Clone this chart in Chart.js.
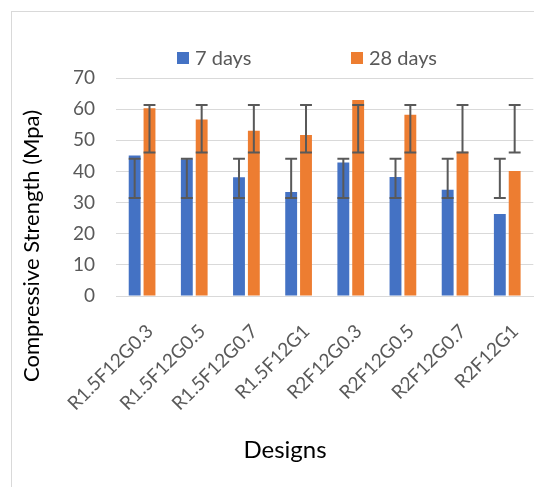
<!DOCTYPE html>
<html><head><meta charset="utf-8">
<script src="https://cdn.jsdelivr.net/npm/chart.js@4.4.0/dist/chart.umd.min.js"></script>
<style>
html,body{margin:0;padding:0;background:#fff;overflow:hidden;width:534px;height:487px;}
#frame{position:absolute;left:11px;top:11px;width:600px;height:600px;border:1px solid #d9d9d9;box-sizing:border-box;}
#wrap{position:absolute;left:0;top:0;width:548px;height:487px;}
</style></head><body>
<div id="frame"></div>
<div id="wrap"><canvas id="c" width="548" height="487"></canvas></div>
<script>
// ---- data ----
const categories = ['R1.5F12G0.3','R1.5F12G0.5','R1.5F12G0.7','R1.5F12G1','R2F12G0.3','R2F12G0.5','R2F12G0.7','R2F12G1'];
const days7  = [45.1, 43.9, 38.1, 33.4, 42.9, 38.2, 34.1, 26.3];
const days28 = [60.3, 56.7, 53.1, 51.7, 62.9, 58.2, 46.3, 40.1];
const err7Low   = [31.5, 31.5, 31.5, 31.5, 31.5, 31.5, 31.5, 31.5];
const err7High  = [44.1, 44.1, 44.1, 44.1, 44.1, 44.1, 44.1, 44.1];
const err28Low  = [46.1, 46.1, 46.1, 46.1, 46.1, 46.1, 46.1, 46.1];
const err28High = [61.3, 61.3, 61.3, 61.3, 61.3, 61.3, 61.3, 61.3];
const seriesLabels = ['7 days', '28 days'];
const yTicks = [0, 10, 20, 30, 40, 50, 60, 70];
const yTitle = 'Compressive Strength (Mpa)';
const xTitle = 'Designs';

const FONT = 'Lato';
const TICK_COLOR = '#595959';

const errorBarPlugin = {
  id: 'errorBars',
  afterDatasetsDraw(chart) {
    const ctx = chart.ctx;
    const ys = chart.scales.y;
    ctx.save();
    ctx.strokeStyle = '#595959';
    ctx.lineWidth = 2;
    chart.data.datasets.forEach((ds, i) => {
      const meta = chart.getDatasetMeta(i);
      if (!meta.visible) return;
      meta.data.forEach((bar, j) => {
        const x = bar.x, half = bar.width / 2;
        const yLo = ys.getPixelForValue(ds.errLow[j]);
        const yHi = ys.getPixelForValue(ds.errHigh[j]);
        ctx.beginPath();
        ctx.moveTo(x, yLo); ctx.lineTo(x, yHi);
        ctx.moveTo(x - half, yLo); ctx.lineTo(x + half, yLo);
        ctx.moveTo(x - half, yHi); ctx.lineTo(x + half, yHi);
        ctx.stroke();
      });
    });
    ctx.restore();
  }
};

const decorPlugin = {
  id: 'decor',
  afterDraw(chart, args, opts) {
    const ctx = chart.ctx;
    ctx.save();
    // legend
    ctx.font = opts.legendSize + 'px ' + FONT;
    ctx.textBaseline = 'middle';
    ctx.textAlign = 'left';
    chart.data.datasets.forEach((ds, i) => {
      const x = opts.legendX + i * opts.legendPitch;
      ctx.fillStyle = ds.backgroundColor;
      ctx.fillRect(x, opts.legendY - 6, 12, 12);
      ctx.fillStyle = TICK_COLOR;
      ctx.fillText(ds.label, x + 18, opts.legendY + 1);
    });
    // axis titles
    ctx.fillStyle = '#000';
    ctx.textAlign = 'center';
    ctx.font = opts.xTitleSize + 'px ' + FONT;
    ctx.fillText(xTitle, opts.xTitleX, opts.xTitleY);
    ctx.font = opts.yTitleSize + 'px ' + FONT;
    ctx.translate(opts.yTitleX, opts.yTitleY);
    ctx.rotate(-Math.PI / 2);
    ctx.fillText(yTitle, 0, 0);
    ctx.restore();
  }
};

function draw() {
  Chart.defaults.font.family = FONT;
  new Chart(document.getElementById('c'), {
    type: 'bar',
    data: {
      labels: categories,
      datasets: [
        { label: seriesLabels[0], data: days7, backgroundColor: '#4472C4', errLow: err7Low, errHigh: err7High },
        { label: seriesLabels[1], data: days28, backgroundColor: '#ED7D31', errLow: err28Low, errHigh: err28High }
      ]
    },
    options: {
      responsive: false,
      animation: false,
      devicePixelRatio: 1,
      categoryPercentage: 0.569,
      barPercentage: 0.8,
      layout: { padding: { top: 78, right: 10, left: 0, bottom: 0 } },
      plugins: {
        legend: { display: false },
        tooltip: { enabled: false },
        decor: {
          legendX: 177, legendPitch: 174, legendY: 58, legendSize: 20,
          xTitleSize: 24, yTitleSize: 22, xTitleX: 285, xTitleY: 450, yTitleX: 32, yTitleY: 246
        }
      },
      scales: {
        x: {
          grid: { display: false, drawTicks: false },
          border: { display: true, color: '#d9d9d9', width: 1 },
          ticks: { color: TICK_COLOR, font: { size: 19 }, minRotation: 45, maxRotation: 45, autoSkip: false, padding: 24, labelOffset: 8 },
          afterFit(s) { s.height = 191; }
        },
        y: {
          min: 0, max: 70,
          afterBuildTicks(s) { s.ticks = yTicks.map(v => ({ value: v })); },
          grid: { color: '#d9d9d9', drawTicks: false, lineWidth: 1 },
          border: { display: false },
          ticks: { color: TICK_COLOR, font: { size: 19 }, padding: 21 },
          afterFit(s) { s.width = 116; }
        }
      }
    },
    plugins: [errorBarPlugin, decorPlugin]
  });
}

if (document.fonts && document.fonts.load) {
  Promise.all([document.fonts.load('19px Lato'), document.fonts.load('24px Lato')]).then(draw, draw);
} else { draw(); }
</script>
</body></html>
